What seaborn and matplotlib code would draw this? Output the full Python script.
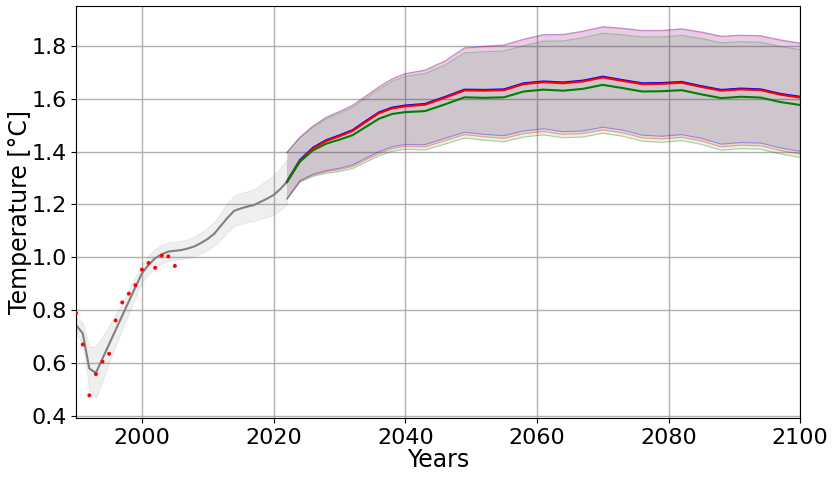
import matplotlib
matplotlib.use("Agg")
import matplotlib.pyplot as plt
import seaborn as sns

# observed annual temperature anomalies (red dots)
obs_years = list(range(1990, 2006))
obs_temp = [0.789, 0.671, 0.479, 0.559, 0.606, 0.636, 0.762, 0.830,
            0.863, 0.895, 0.954, 0.979, 0.961, 1.007, 1.004, 0.968]

# historical smoothed curve with uncertainty band
hist_years = list(range(1990, 2023))
hist_mid = [0.744, 0.713, 0.580, 0.564, 0.618, 0.672, 0.726, 0.780, 0.834, 0.888,
            0.940, 0.972, 0.997, 1.012, 1.022, 1.025, 1.028, 1.034, 1.042, 1.055,
            1.070, 1.090, 1.120, 1.150, 1.176, 1.185, 1.192, 1.198, 1.210, 1.222,
            1.236, 1.258, 1.285]
hist_hi = [0.775, 0.753, 0.662, 0.664, 0.703, 0.742, 0.786, 0.830, 0.879, 0.928,
           0.975, 1.007, 1.032, 1.047, 1.057, 1.060, 1.063, 1.069, 1.080, 1.095,
           1.112, 1.135, 1.170, 1.205, 1.234, 1.243, 1.250, 1.258, 1.275, 1.292,
           1.311, 1.338, 1.370]
hist_lo = [0.714, 0.673, 0.500, 0.470, 0.533, 0.602, 0.666, 0.730, 0.789, 0.848,
           0.905, 0.937, 0.962, 0.977, 0.987, 0.990, 0.993, 0.999, 1.004, 1.015,
           1.028, 1.045, 1.070, 1.095, 1.118, 1.127, 1.134, 1.138, 1.145, 1.152,
           1.161, 1.178, 1.200]

# projections
proj_years = [2022, 2024, 2026, 2028, 2030, 2032, 2034, 2036, 2038, 2040,
              2043, 2046, 2049, 2052, 2055, 2058, 2061, 2064, 2067, 2070,
              2073, 2076, 2079, 2082, 2085, 2088, 2091, 2094, 2097, 2100]

blue_mid = [1.286, 1.368, 1.415, 1.443, 1.461, 1.481, 1.515, 1.548, 1.566, 1.574,
            1.580, 1.606, 1.634, 1.633, 1.635, 1.658, 1.665, 1.661, 1.668, 1.683,
            1.670, 1.658, 1.659, 1.663, 1.647, 1.633, 1.638, 1.635, 1.618, 1.607]
blue_hi = [1.397, 1.455, 1.497, 1.530, 1.552, 1.575, 1.610, 1.645, 1.675, 1.695,
           1.708, 1.742, 1.792, 1.798, 1.803, 1.825, 1.842, 1.843, 1.855, 1.872,
           1.866, 1.858, 1.858, 1.864, 1.852, 1.836, 1.840, 1.838, 1.822, 1.810]
blue_lo = [1.221, 1.290, 1.315, 1.328, 1.337, 1.350, 1.375, 1.400, 1.418, 1.427,
           1.426, 1.450, 1.473, 1.465, 1.460, 1.478, 1.486, 1.475, 1.478, 1.492,
           1.481, 1.462, 1.458, 1.464, 1.450, 1.428, 1.434, 1.432, 1.414, 1.401]

red_mid = [1.284, 1.365, 1.412, 1.440, 1.458, 1.478, 1.512, 1.545, 1.563, 1.571,
           1.577, 1.603, 1.631, 1.630, 1.632, 1.655, 1.662, 1.658, 1.665, 1.680,
           1.667, 1.655, 1.656, 1.660, 1.644, 1.630, 1.635, 1.632, 1.615, 1.604]
red_hi = [1.395, 1.453, 1.495, 1.528, 1.550, 1.573, 1.608, 1.643, 1.673, 1.693,
          1.706, 1.740, 1.790, 1.796, 1.801, 1.823, 1.840, 1.841, 1.853, 1.870,
          1.864, 1.856, 1.856, 1.862, 1.850, 1.834, 1.838, 1.836, 1.820, 1.808]
red_lo = [1.220, 1.288, 1.312, 1.324, 1.332, 1.344, 1.369, 1.393, 1.411, 1.420,
          1.418, 1.441, 1.464, 1.456, 1.450, 1.468, 1.476, 1.465, 1.468, 1.482,
          1.471, 1.452, 1.448, 1.454, 1.440, 1.418, 1.424, 1.422, 1.404, 1.391]

green_mid = [1.284, 1.362, 1.405, 1.430, 1.445, 1.462, 1.493, 1.524, 1.542, 1.549,
             1.553, 1.578, 1.605, 1.603, 1.605, 1.627, 1.634, 1.630, 1.637, 1.652,
             1.640, 1.627, 1.628, 1.632, 1.616, 1.602, 1.607, 1.604, 1.587, 1.576]
green_hi = [1.395, 1.451, 1.492, 1.524, 1.545, 1.567, 1.601, 1.635, 1.665, 1.684,
            1.695, 1.726, 1.773, 1.777, 1.780, 1.800, 1.817, 1.818, 1.830, 1.847,
            1.841, 1.833, 1.833, 1.839, 1.827, 1.811, 1.815, 1.813, 1.797, 1.785]
green_lo = [1.219, 1.285, 1.307, 1.318, 1.325, 1.336, 1.360, 1.384, 1.401, 1.409,
            1.406, 1.428, 1.451, 1.443, 1.437, 1.455, 1.463, 1.452, 1.455, 1.469,
            1.458, 1.439, 1.435, 1.441, 1.427, 1.405, 1.411, 1.409, 1.391, 1.378]

scenarios = [
    ("blue", blue_mid, blue_lo, blue_hi),
    ("red", red_mid, red_lo, red_hi),
    ("green", green_mid, green_lo, green_hi),
]

sns.set_style("white")
plt.rcParams['font.family'] = ['DejaVu Sans']
plt.rcParams.update({"text.color": "black", "axes.labelcolor": "black",
                     "xtick.color": "black", "ytick.color": "black"})

fig, ax = plt.subplots(figsize=(8.37, 4.8), dpi=100)
fig.subplots_adjust(left=0.091, right=0.956, top=0.9875, bottom=0.129)

# history
ax.fill_between(hist_years, hist_lo, hist_hi, color="grey", alpha=0.12, lw=0.8)
sns.lineplot(x=hist_years, y=hist_mid, color="grey", lw=1.5, ax=ax)

# projection bands
for col, mid, lo, hi in scenarios:
    ax.fill_between(proj_years, lo, hi, color=col, alpha=0.1, lw=0)
for col, mid, lo, hi in scenarios:
    sns.lineplot(x=proj_years, y=lo, color=col, lw=0.8, alpha=0.3, ax=ax)
    sns.lineplot(x=proj_years, y=hi, color=col, lw=0.8, alpha=0.3, ax=ax)

# projection central lines
sns.lineplot(x=proj_years, y=blue_mid, color="blue", lw=1.5, ax=ax)
sns.lineplot(x=proj_years, y=red_mid, color="red", lw=1.5, ax=ax)
sns.lineplot(x=proj_years, y=green_mid, color="green", lw=1.5, ax=ax)

# observations
sns.scatterplot(x=obs_years, y=obs_temp, color="red", s=8, edgecolor="none", ax=ax, zorder=5)

ax.set_xlim(1990, 2100)
ax.set_ylim(0.393, 1.95)
ax.set_xticks([2000, 2020, 2040, 2060, 2080, 2100])
ax.set_yticks([0.4, 0.6, 0.8, 1.0, 1.2, 1.4, 1.6, 1.8])
ax.grid(True, color="#b0b0b0", lw=1)
ax.tick_params(labelsize=16, left=True, bottom=True, length=3.5, width=0.8)
ax.set_xlabel("Years", fontsize=17, labelpad=0)
ax.set_ylabel("Temperature [°C]", fontsize=17, labelpad=-1)
for sp in ax.spines.values():
    sp.set_color("black")

fig.savefig("out.png", dpi=100)
